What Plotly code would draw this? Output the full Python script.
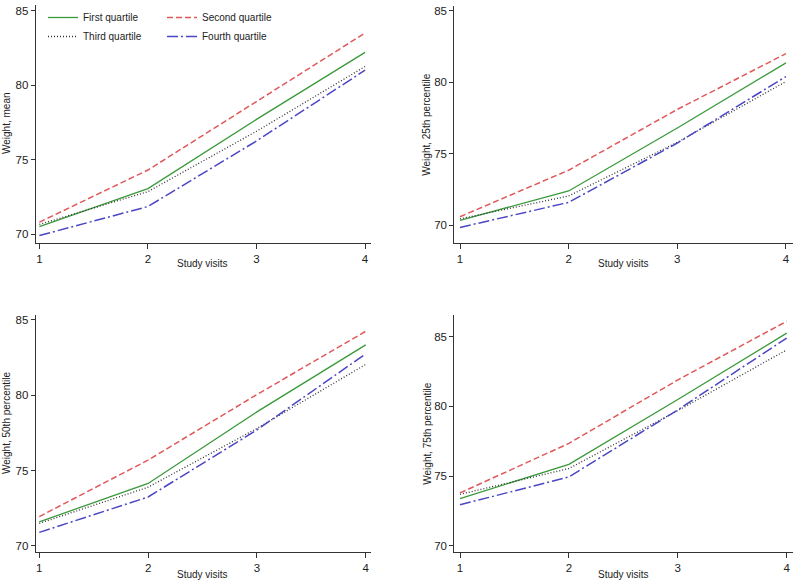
import plotly.graph_objects as go

visits = [1, 2, 3, 4]
series_names = ["First quartile", "Second quartile", "Third quartile", "Fourth quartile"]

# Panel 1: Weight, mean
mean_first = [70.5, 73.05, 77.7, 82.2]
mean_second = [70.8, 74.3, 78.9, 83.5]
mean_third = [70.65, 72.85, 76.9, 81.25]
mean_fourth = [69.9, 71.85, 76.25, 81.0]

# Panel 2: Weight, 25th percentile
p25_first = [70.35, 72.4, 76.8, 81.35]
p25_second = [70.6, 73.85, 78.1, 82.0]
p25_third = [70.45, 72.05, 75.8, 80.05]
p25_fourth = [69.85, 71.6, 75.75, 80.4]

# Panel 3: Weight, 50th percentile
p50_first = [71.6, 74.15, 78.9, 83.35]
p50_second = [71.95, 75.7, 80.05, 84.25]
p50_third = [71.5, 73.9, 77.8, 82.05]
p50_fourth = [70.9, 73.25, 77.7, 82.75]

# Panel 4: Weight, 75th percentile
p75_first = [73.4, 75.85, 80.5, 85.25]
p75_second = [73.8, 77.35, 81.9, 86.1]
p75_third = [73.7, 75.55, 79.7, 84.05]
p75_fourth = [72.95, 74.95, 79.75, 84.9]

y_titles = ["Weight, mean", "Weight, 25th percentile", "Weight, 50th percentile", "Weight, 75th percentile"]
x_title = "Study visits"
y_ticks = [70, 75, 80, 85]

panels = [
    [mean_first, mean_second, mean_third, mean_fourth],
    [p25_first, p25_second, p25_third, p25_fourth],
    [p50_first, p50_second, p50_third, p50_fourth],
    [p75_first, p75_second, p75_third, p75_fourth],
]

styles = [
    dict(color="#3a9a3a", width=1.3, dash="solid"),
    dict(color="#e0585a", width=1.5, dash="6px,3px"),
    dict(color="#333333", width=1.3, dash="1px,2px"),
    dict(color="#4a46c4", width=1.5, dash="11px,3px,2px,3px"),
]
legend_ids = ["legend2", "legend3", "legend2", "legend3"]

W, H = 800, 583
FONT = "Liberation Sans, Arial, sans-serif"

# plot-area pixel boxes: (left, right, top, bottom)
boxes = [
    (35.7, 370.7, 5, 242.7),
    (454.3, 792.7, 6, 243.3),
    (35.7, 370.7, 315, 551.7),
    (454.3, 792.7, 315, 551.7),
]
x_ranges = [[0.966, 4.052], [0.9475, 4.062], [0.967, 4.046], [0.9477, 4.055]]
y_ranges = [[69.42, 85.38], [68.74, 85.33], [69.62, 85.33], [69.59, 86.55]]

fig = go.Figure()
for p, data in enumerate(panels):
    xa = "x" if p == 0 else f"x{p+1}"
    ya = "y" if p == 0 else f"y{p+1}"
    for s, vals in enumerate(data):
        fig.add_trace(go.Scatter(
            x=visits, y=vals, mode="lines", name=series_names[s],
            line=styles[s], xaxis=xa, yaxis=ya,
            showlegend=(p == 0), legend=legend_ids[s],
        ))

layout = dict(
    width=W, height=H, margin=dict(l=0, r=0, t=0, b=0),
    paper_bgcolor="white", plot_bgcolor="white",
    font=dict(family=FONT, size=11, color="#222"),
    annotations=[],
)
for p in range(4):
    l, r, t, b = boxes[p]
    xk = "xaxis" if p == 0 else f"xaxis{p+1}"
    yk = "yaxis" if p == 0 else f"yaxis{p+1}"
    ya = "y" if p == 0 else f"y{p+1}"
    xa = "x" if p == 0 else f"x{p+1}"
    layout[xk] = dict(
        domain=[l / W, r / W], range=x_ranges[p], anchor=ya,
        tickvals=visits, ticks="outside", ticklen=5, tickwidth=1, tickcolor="#333",
        showline=True, linecolor="#333", linewidth=1, showgrid=False, zeroline=False,
        tickfont=dict(family=FONT, size=11.5, color="#222"),
    )
    layout[yk] = dict(
        domain=[1 - b / H, 1 - t / H], range=y_ranges[p], anchor=xa,
        tickvals=y_ticks, ticks="outside", ticklen=4, tickwidth=1, tickcolor="#333",
        showline=True, linecolor="#333", linewidth=1, showgrid=False, zeroline=False,
        tickfont=dict(family=FONT, size=11.5, color="#222"),
    )

# axis titles
xt_pos = [(202, 263.5), (623, 263.5), (202, 574), (623, 574)]
yt_pos = [(6, 123), (426.7, 124), (6, 423), (426.7, 433)]
for p in range(4):
    xx, yy = xt_pos[p]
    layout["annotations"].append(dict(
        text=x_title, xref="paper", yref="paper", x=xx / W, y=1 - yy / H,
        xanchor="center", yanchor="middle", showarrow=False,
        font=dict(family=FONT, size=10, color="#222"),
    ))
    xx, yy = yt_pos[p]
    layout["annotations"].append(dict(
        text=y_titles[p], xref="paper", yref="paper", x=xx / W, y=1 - yy / H,
        xanchor="center", yanchor="middle", showarrow=False, textangle=-90,
        font=dict(family=FONT, size=10, color="#222"),
    ))

leg_common = dict(
    orientation="v", yanchor="top", xanchor="left", bgcolor="rgba(0,0,0,0)",
    font=dict(family=FONT, size=10, color="#222"), borderwidth=0, tracegroupgap=0,
    xref="paper", yref="paper",
)
layout["legend2"] = dict(x=43 / W, y=1 - 3 / H, **leg_common)
layout["legend3"] = dict(x=162 / W, y=1 - 3 / H, **leg_common)

fig.update_layout(**layout)
fig.write_html(
    "out.html",
    config={"displayModeBar": False},
    post_script="document.body.style.margin='0';document.body.style.padding='0';",
)
